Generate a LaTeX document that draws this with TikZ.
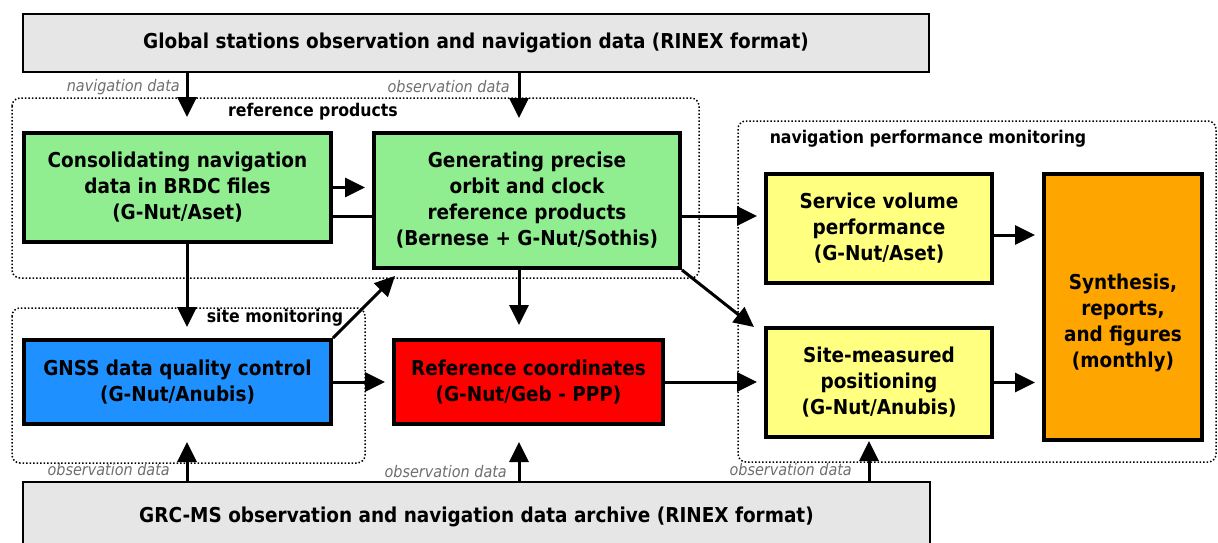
\documentclass[tikz,border=0pt]{standalone}
\usepackage{fontspec}
\setmainfont{DejaVu Sans Condensed}[BoldFont={DejaVu Sans Condensed Bold},ItalicFont={DejaVu Sans Condensed Oblique}]
\usetikzlibrary{arrows.meta,backgrounds}
\definecolor{boxgreen}{RGB}{144,238,144}
\definecolor{boxblue}{RGB}{30,144,255}
\definecolor{boxred}{RGB}{255,0,0}
\definecolor{boxyellow}{RGB}{255,255,128}
\definecolor{boxorange}{RGB}{255,165,0}
\definecolor{boxgray}{RGB}{230,230,230}
\definecolor{taggray}{RGB}{110,110,110}

\begin{document}
\begin{tikzpicture}[x=1pt, y=-1pt, >={Triangle[length=20pt,width=19pt]},
    font=\fontsize{20.5}{26}\selectfont\bfseries,
    box/.style={draw, line width=4pt, align=center, inner sep=0pt},
    src/.style={draw, line width=1.5pt, fill=boxgray, align=center, inner sep=0pt},
    grp/.style={draw, dotted, line width=1.5pt, rounded corners=8pt},
    grplbl/.style={font=\fontsize{17.5}{20}\selectfont\bfseries, inner sep=0pt},
    tag/.style={font=\fontsize{16}{18}\selectfont\mdseries\itshape, text=taggray, anchor=east, inner sep=1pt},
    arr/.style={->, line width=3pt}]
    % Bildbereich
    \useasboundingbox (0,0) rectangle (1218,542);
    \clip (0,0) rectangle (1218,542);
    % Gruppen
    \draw[grp] (12,98) rectangle (699,278);
    \draw[grp] (12,308) rectangle (365,463);
    \draw[grp] (738,121) rectangle (1216,462);
    \node[grplbl] (lref) at (313,112) {reference products};
    \node[grplbl] (lsite) at (275,318) {site monitoring};
    \node[grplbl] (lnav) at (928,139) {navigation performance monitoring};
    % Datenquellen
    \node[src, minimum width=906, minimum height=58] (glob) at (476,43)
        {Global stations observation and navigation data (RINEX format)};
    \node[src, minimum width=907, minimum height=70] (grc) at (476.5,517)
        {GRC-MS observation and navigation data archive (RINEX format)};
    % Verarbeitung
    \node[box, fill=boxgreen, minimum width=307, minimum height=109] (consol) at (177.5,187.5)
        {Consolidating navigation\\data in BRDC files\\(G-Nut/Aset)};
    \node[box, fill=boxgreen, minimum width=306, minimum height=135] (gen) at (527,200.5)
        {Generating precise\\orbit and clock\\reference products\\(Bernese + G-Nut/Sothis)};
    \node[box, fill=boxblue, minimum width=307, minimum height=84] (gnss) at (177.5,382)
        {GNSS data quality control\\(G-Nut/Anubis)};
    \node[box, fill=boxred, minimum width=269, minimum height=84] (refc) at (528.5,382)
        {Reference coordinates\\(G-Nut/Geb - PPP)};
    \node[box, fill=boxyellow, minimum width=226, minimum height=109] (svc) at (879,228.5)
        {Service volume\\performance\\(G-Nut/Aset)};
    \node[box, fill=boxyellow, minimum width=226, minimum height=109] (site) at (879,382.5)
        {Site-measured\\positioning\\(G-Nut/Anubis)};
    \node[box, fill=boxorange, minimum width=158, minimum height=266] (synth) at (1123,307)
        {\mbox{}\\[22pt]Synthesis,\\reports,\\and figures\\(monthly)};
    % Hilfspunkte
    \coordinate (c1) at (187,0);
    \coordinate (c2) at (519,0);
    \coordinate (c3) at (869,0);
    \coordinate (r2) at (0,216);
    \coordinate (r5) at (0,235);
    \coordinate (gtip) at (395,276);
    \coordinate (stip) at (754,327);
    % Pfeile
    \draw[arr, shorten >=14pt] (c1 |- glob.south) -- (c1 |- consol.north);
    \draw[arr, shorten >=13pt] (c2 |- glob.south) -- (c2 |- gen.north);
    \node[tag] (tnav) at (181,87) {navigation data};
    \node[tag] (tobs1) at (511,87) {observation data};
    \draw[arr, shorten >=7pt] (consol.east) -- (consol.east -| gen.west);
    \begin{scope}[on background layer]
        \draw[arr, shorten >=7pt] (r2 -| consol.east) -- (r2 -| svc.west);
    \end{scope}
    \draw[arr, shorten >=11pt] (c1 |- consol.south) -- (c1 |- gnss.north);
    \draw[arr, shorten >=13pt] (c2 |- gen.south) -- (c2 |- refc.north);
    \draw[arr] (gnss.north east) -- (gtip);
    \draw[arr] (gen.south east) -- (stip);
    \draw[arr, shorten >=7pt] (gnss.east) -- (gnss.east -| refc.west);
    \draw[arr, shorten >=7pt] (refc.east) -- (refc.east -| site.west);
    \draw[arr, shorten >=7pt] (r5 -| svc.east) -- (r5 -| synth.west);
    \draw[arr, shorten >=7pt] (site.east) -- (site.east -| synth.west);
    \draw[arr, shorten >=16pt] (c1 |- grc.north) -- (c1 |- gnss.south);
    \draw[arr, shorten >=16pt] (c2 |- grc.north) -- (c2 |- refc.south);
    \draw[arr, shorten >=2pt] (c3 |- grc.north) -- (c3 |- site.south);
    \node[tag] (tobs2) at (171,470) {observation data};
    \node[tag] (tobs3) at (508,472) {observation data};
    \node[tag] (tobs4) at (853,470) {observation data};
\end{tikzpicture}
\end{document}
